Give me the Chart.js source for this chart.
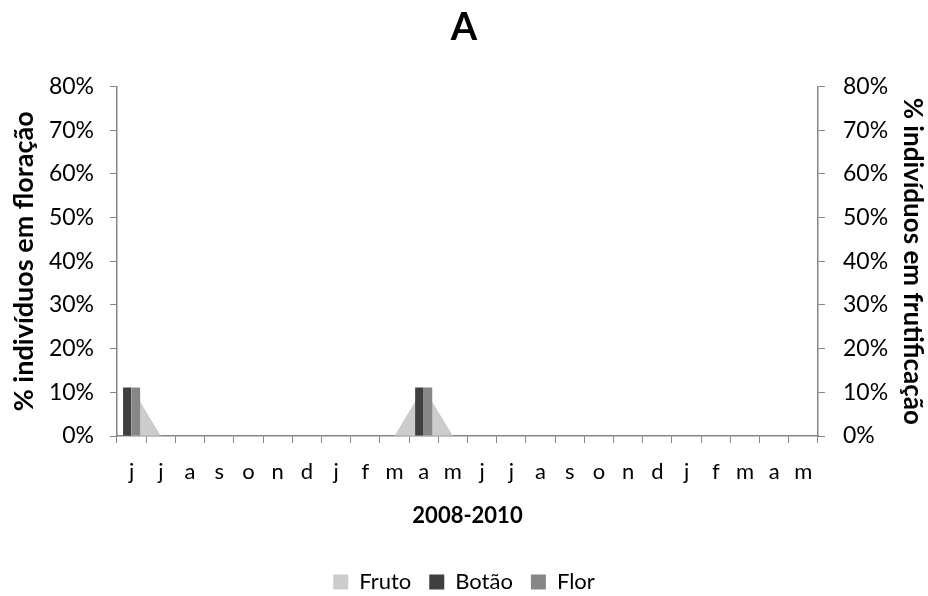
<!DOCTYPE html>
<html>
<head>
<meta charset="utf-8">
<script src="https://cdn.jsdelivr.net/npm/chart.js@4"></script>
<style>
  html, body { margin: 0; padding: 0; background: #fff; }
  #wrap { width: 928px; height: 596px; }
</style>
</head>
<body>
<div id="wrap"><canvas id="chart" width="928" height="596"></canvas></div>
<script>
// months jun/2008 .. mai/2010
const months = ['j','j','a','s','o','n','d','j','f','m','a','m','j','j','a','s','o','n','d','j','f','m','a','m'];
const fruto = [11.1,0,0,0,0,0,0,0,0,0,11.1,0,0,0,0,0,0,0,0,0,0,0,0,0];
const botao = [11.1,0,0,0,0,0,0,0,0,0,11.1,0,0,0,0,0,0,0,0,0,0,0,0,0];
const flor  = [11.1,0,0,0,0,0,0,0,0,0,11.1,0,0,0,0,0,0,0,0,0,0,0,0,0];
const yTicks = [0,10,20,30,40,50,60,70,80];

const FONT = 'Lato, "Open Sans", sans-serif';
const axisGray = '#868686';

const ctx = document.getElementById('chart').getContext('2d');

const chart = new Chart(ctx, {
  type: 'bar',
  data: {
    labels: months,
    datasets: [
      {
        type: 'line',
        label: 'Fruto',
        data: fruto,
        yAxisID: 'y1',
        fill: 'origin',
        backgroundColor: 'rgba(195,195,195,0.85)',
        borderColor: 'rgba(0,0,0,0)',
        borderWidth: 0,
        pointRadius: 0,
        tension: 0,
        order: 2
      },
      {
        label: 'Botão',
        data: botao,
        yAxisID: 'y',
        backgroundColor: '#3f3f3f',
        borderWidth: 0,
        categoryPercentage: 0.6,
        barPercentage: 0.95,
        order: 1
      },
      {
        label: 'Flor',
        data: flor,
        yAxisID: 'y',
        backgroundColor: '#878787',
        borderWidth: 0,
        categoryPercentage: 0.6,
        barPercentage: 0.95,
        order: 1
      }
    ]
  },
  options: {
    responsive: false,
    animation: false,
    // negative bottom padding lets the legend sit lower, like the original
    layout: { padding: { top: 0, left: 0, right: 0, bottom: -7 } },
    plugins: {
      title: {
        display: true,
        text: 'A',
        color: '#000',
        font: { family: FONT, size: 38, weight: 'bold', lineHeight: 1.2 },
        padding: { top: 5, bottom: 36 }
      },
      legend: {
        position: 'bottom',
        labels: {
          color: '#000',
          font: { family: FONT, size: 22 },
          boxWidth: 15,
          boxHeight: 15,
          padding: 18,
          sort: (a, b) => a.datasetIndex - b.datasetIndex
        }
      },
      tooltip: { enabled: false }
    },
    scales: {
      x: {
        grid: { drawOnChartArea: false, offset: true, color: axisGray, tickLength: 7 },
        border: { color: axisGray, width: 1.5 },
        ticks: { color: '#000', font: { family: FONT, size: 22 }, padding: 16, maxRotation: 0, autoSkip: false },
        title: { display: true, text: '2008-2010', color: '#000', font: { family: FONT, size: 22, weight: 'bold' }, padding: { top: 4, bottom: 24 } },
        afterFit: s => { s.height = 117; }
      },
      y: {
        position: 'left',
        min: 0, max: 80,
        afterBuildTicks: s => { s.ticks = yTicks.map(v => ({ value: v })); },
        grid: { drawOnChartArea: false, color: axisGray, tickLength: 7 },
        border: { color: axisGray, width: 1.5 },
        ticks: { color: '#000', font: { family: FONT, size: 23 }, padding: 16, callback: v => v + '%' },
        title: { display: true, text: '% indivíduos em floração', color: '#000', font: { family: FONT, size: 27, weight: 'bold' }, padding: { top: 8, bottom: 8 } },
        afterFit: s => { s.width = 117; }
      },
      y1: {
        position: 'right',
        min: 0, max: 80,
        afterBuildTicks: s => { s.ticks = yTicks.map(v => ({ value: v })); },
        grid: { drawOnChartArea: false, color: axisGray, tickLength: 7 },
        border: { color: axisGray, width: 1.5 },
        ticks: { color: '#000', font: { family: FONT, size: 23 }, padding: 18, callback: v => v + '%' },
        title: { display: true, text: '% indivíduos em frutificação', color: '#000', font: { family: FONT, size: 26, weight: 'bold' }, padding: { top: 0, bottom: 0 } },
        afterFit: s => { s.width = 110; }
      }
    }
  }
});
</script>
</body>
</html>
